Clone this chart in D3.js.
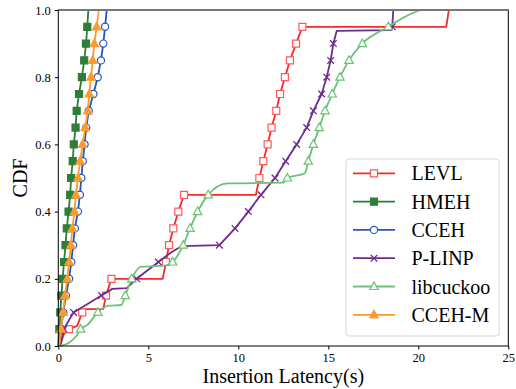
<!DOCTYPE html>
<html>
<head>
<meta charset="utf-8">
<script src="https://cdn.jsdelivr.net/npm/d3@7"></script>
<style>
  html, body { margin: 0; padding: 0; background: #fff; }
  svg { display: block; font-family: "Liberation Serif", "Times New Roman", serif; }
</style>
</head>
<body>
<script>
// CDF levels where the markers sit
const levels = [0.05, 0.10, 0.15, 0.20, 0.25, 0.30, 0.35, 0.40, 0.45, 0.50,
  0.55, 0.60, 0.65, 0.70, 0.75, 0.80, 0.85, 0.90, 0.95];

// latency (s) at each level, per scheme
const levlX = [0.6, 1.33, 2.65, 2.95, 5.98, 6.15, 6.39, 6.67, 6.98, 11.17,
  11.39, 11.63, 11.85, 12.11, 12.32, 12.59, 12.87, 13.21, 13.56];
const hmehX = [0.06, 0.11, 0.17, 0.24, 0.32, 0.4, 0.47, 0.57, 0.66, 0.71,
  0.8, 0.86, 0.96, 1.02, 1.15, 1.31, 1.44, 1.54, 1.61];
const ccehX = [0.15, 0.28, 0.42, 0.6, 0.72, 0.82, 0.92, 1.09, 1.2, 1.28,
  1.36, 1.46, 1.55, 1.69, 1.95, 2.19, 2.37, 2.5, 2.6];
const plinpX = [0.3, 0.85, 2.4, 4.35, 5.56, 8.95, 9.82, 10.56, 11.26, 12.04,
  12.63, 13.24, 13.8, 14.17, 14.63, 14.91, 15.13, 15.28, 18.55];
const libcuckooX = [1.24, 2.2, 3.72, 4.08, 6.35, 6.94, 7.32, 7.74, 8.33, 12.72,
  13.89, 14.17, 14.5, 14.82, 15.22, 15.65, 16.15, 16.89, 18.33];
const ccehmX = [0.15, 0.27, 0.37, 0.5, 0.6, 0.7, 0.78, 0.9, 0.98, 1.09,
  1.21, 1.35, 1.5, 1.64, 1.72, 1.82, 1.91, 2.0, 2.13];

// extra points of each curve between markers (plateaus, ends)
const levlExtra = [[0.1, 0], [0.3, 0.035], [1.05, 0.06], [1.4, 0.11], [2.5, 0.11],
  [5.8, 0.2], [10.98, 0.45], [21.55, 0.95], [21.7, 1.0]];
const hmehExtra = [[0, 0], [1.67, 1.0]];
const ccehExtra = [[0.05, 0], [2.69, 1.0]];
const plinpExtra = [[0.1, 0], [0.15, 0.01], [3.0, 0.17], [3.8, 0.172], [6.3, 0.28],
  [6.85, 0.297], [15.47, 0.938], [18.5, 0.94], [18.61, 1.0]];
const libcuckooExtra = [[0.1, 0], [0.6, 0.01], [1.0, 0.03], [1.6, 0.062], [2.8, 0.12],
  [3.5, 0.122], [4.6, 0.236], [6.0, 0.24], [9.4, 0.484], [12.5, 0.486],
  [13.7, 0.514], [19.2, 0.978], [20.1, 1.0]];
const ccehmExtra = [[0.05, 0], [2.25, 1.0]];

const names = ['LEVL', 'HMEH', 'CCEH', 'P-LINP', 'libcuckoo', 'CCEH-M'];
const xTicks = [0, 5, 10, 15, 20, 25];
const yTicks = [0, 0.2, 0.4, 0.6, 0.8, 1.0];

const series = [
  { name: names[0], xs: levlX, extra: levlExtra, color: '#f52a2a', edge: '#ff5a5a', fill: '#fff', sym: 'square', smooth: false },
  { name: names[1], xs: hmehX, extra: hmehExtra, color: '#2e7d38', edge: '#2e7d38', fill: '#2e7d38', sym: 'square', smooth: false },
  { name: names[2], xs: ccehX, extra: ccehExtra, color: '#2457b8', edge: '#2457b8', fill: '#fff', sym: 'circle', smooth: false },
  { name: names[3], xs: plinpX, extra: plinpExtra, color: '#6e2a8c', edge: '#6e2a8c', fill: 'none', sym: 'x', smooth: false },
  { name: names[4], xs: libcuckooX, extra: libcuckooExtra, color: '#6cc274', edge: '#6cc274', fill: '#fff', sym: 'triangle', smooth: true },
  { name: names[5], xs: ccehmX, extra: ccehmExtra, color: '#fb9b2f', edge: '#fb9b2f', fill: '#fb9b2f', sym: 'triangle', smooth: false },
];

const W = 516, H = 389;
const margin = { left: 58.3, right: 7.7, top: 10, bottom: 43 };

const svg = d3.select('body').append('svg')
  .attr('width', W)
  .attr('height', H);

const x = d3.scaleLinear().domain([0, 25]).range([margin.left, W - margin.right]);
const y = d3.scaleLinear().domain([0, 1]).range([H - margin.bottom, margin.top]);

const plot = svg.append('g');

function markerPath(sym, s) {
  if (sym === 'square') return `M${-s},${-s}h${2 * s}v${2 * s}h${-2 * s}z`;
  if (sym === 'circle') return d3.symbol(d3.symbolCircle, Math.PI * s * s)();
  if (sym === 'triangle') return `M0,${-s * 1.15}L${s * 1.05},${s * 0.75}L${-s * 1.05},${s * 0.75}z`;
  return `M${-s},${-s}L${s},${s}M${-s},${s}L${s},${-s}`;
}
const markerSize = { square: 3.5, circle: 3.6, triangle: 4, x: 3.3 };

series.forEach((sr) => {
  const marks = sr.xs.map((v, i) => [v, levels[i]]);
  const pts = marks.concat(sr.extra).sort((a, b) => (a[1] - b[1]) || (a[0] - b[0]));
  const line = d3.line()
    .x((d) => x(d[0]))
    .y((d) => y(d[1]))
    .curve(sr.smooth ? d3.curveMonotoneX : d3.curveLinear);

  plot.append('path')
    .datum(pts)
    .attr('fill', 'none')
    .attr('stroke', sr.color)
    .attr('stroke-width', 1.8)
    .attr('stroke-linejoin', 'round')
    .attr('d', line);

  plot.append('g')
    .selectAll('path')
    .data(marks)
    .join('path')
    .attr('transform', (d) => `translate(${x(d[0])},${y(d[1])})`)
    .attr('d', markerPath(sr.sym, markerSize[sr.sym]))
    .attr('fill', sr.fill)
    .attr('stroke', sr.edge)
    .attr('stroke-width', sr.sym === 'x' ? 1.3 : 1.2);
});

// frame
svg.append('rect')
  .attr('x', x(0)).attr('y', y(1))
  .attr('width', x(25) - x(0)).attr('height', y(0) - y(1))
  .attr('fill', 'none')
  .attr('stroke', '#000')
  .attr('stroke-width', 1);
svg.append('line')
  .attr('x1', x(0)).attr('x2', x(25))
  .attr('y1', y(1)).attr('y2', y(1))
  .attr('stroke', '#777')
  .attr('stroke-width', 2);

// axes
const xAxis = svg.append('g')
  .attr('transform', `translate(0,${y(0)})`)
  .call(d3.axisBottom(x).tickValues(xTicks).tickSize(3.5).tickPadding(4).tickFormat(d3.format('d')));
const yAxis = svg.append('g')
  .attr('transform', `translate(${x(0)},0)`)
  .call(d3.axisLeft(y).tickValues(yTicks).tickSize(3.5).tickPadding(4).tickFormat(d3.format('.1f')));
[xAxis, yAxis].forEach((a) => {
  a.select('.domain').remove();
  a.selectAll('line').attr('stroke', '#000');
  a.selectAll('text')
    .attr('fill', '#000')
    .style('font-family', '"Liberation Serif", serif')
    .style('font-size', '12.5px');
});

svg.append('text')
  .attr('x', (x(0) + x(25)) / 2)
  .attr('y', 383)
  .attr('text-anchor', 'middle')
  .style('font-size', '20px')
  .text('Insertion Latency(s)');

svg.append('text')
  .attr('transform', `translate(27,${(y(0) + y(1)) / 2}) rotate(-90)`)
  .attr('text-anchor', 'middle')
  .style('font-size', '20px')
  .text('CDF');

// legend
const lg = svg.append('g').attr('transform', 'translate(346,159)');
lg.append('rect')
  .attr('width', 153).attr('height', 177)
  .attr('rx', 3)
  .attr('fill', '#fff')
  .attr('fill-opacity', 0.85)
  .attr('stroke', '#d6d6d6')
  .attr('stroke-width', 1);

const rows = lg.selectAll('g.row')
  .data(series)
  .join('g')
  .attr('class', 'row')
  .attr('transform', (d, i) => `translate(0,${14.3 + i * 28.3})`);
rows.append('line')
  .attr('x1', 7).attr('x2', 49)
  .attr('stroke', (d) => d.color)
  .attr('stroke-width', 1.8);
rows.append('path')
  .attr('transform', 'translate(28,0)')
  .attr('d', (d) => markerPath(d.sym, markerSize[d.sym]))
  .attr('fill', (d) => d.fill)
  .attr('stroke', (d) => d.edge)
  .attr('stroke-width', (d) => (d.sym === 'x' ? 1.3 : 1.2));
rows.append('text')
  .attr('x', 65.5)
  .attr('y', 7)
  .style('font-size', '20px')
  .text((d) => d.name);
</script>
</body>
</html>
